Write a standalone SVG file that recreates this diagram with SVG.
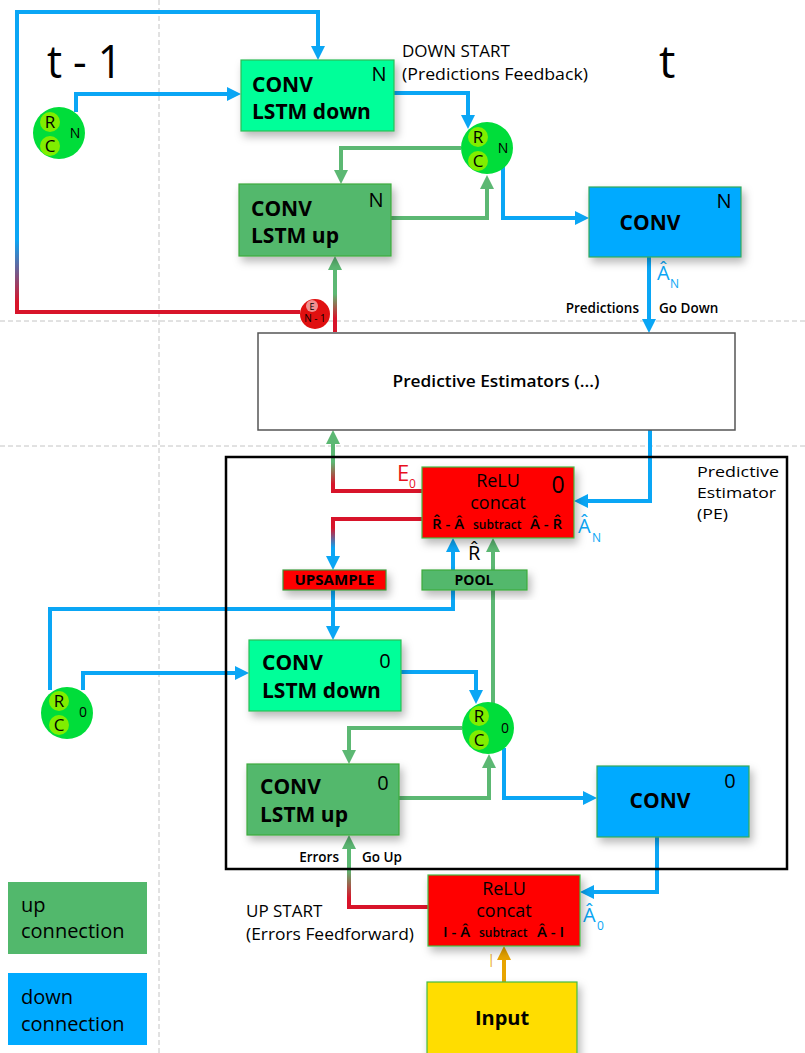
<svg xmlns="http://www.w3.org/2000/svg" width="805" height="1053" viewBox="0 0 805 1053">
<defs>
<style>
text{font-family:"Open Sans","Noto Sans","DejaVu Sans",sans-serif;fill:#000}
.guide{stroke:#c4c4c4;stroke-width:1;stroke-dasharray:5 3;fill:none}
.c{fill:none;stroke-width:4}
.bl{stroke:#0aa6f5}
.gr{stroke:#5cb873}
.or{stroke:#e8a400}
.ab{marker-end:url(#aB)}
.ag{marker-end:url(#aG)}
.ao{marker-end:url(#aO)}
.box{filter:url(#sh)}
.mint{fill:#00ff99;stroke:#2dbb55;stroke-width:1.2}
.dg{fill:#52b86c;stroke:#3caa3c;stroke-width:1.2}
.bb{fill:#00aaff;stroke:#35a85a;stroke-width:1.2}
.rd{fill:#ff0000;stroke:#44bb44;stroke-width:1.2}
.rcm{fill:#00dd3a}
.rci{fill:#80ee00}
.rct{font-size:17px;text-anchor:middle}
.lbl{font-size:14px;text-anchor:middle}
.h{font-size:21px;font-weight:700}
.num{font-size:20px;text-anchor:middle}
.relu{font-size:18px;text-anchor:middle}
.row{font-size:15px;font-weight:600}
.sub{font-size:12px;font-weight:600}
.note{font-size:17px}
.pe{font-size:15px}
.small{font-size:13.5px;font-weight:600}
.blue{fill:#0aa6f5}
</style>
<filter id="sh" x="-20%" y="-20%" width="150%" height="170%"><feDropShadow dx="3" dy="5" stdDeviation="4" flood-color="#000" flood-opacity="0.28"/></filter>
<marker id="aB" markerUnits="userSpaceOnUse" markerWidth="14" markerHeight="14" refX="4" refY="7" orient="auto"><path d="M0,0 L14,7 L0,14 z" fill="#0aa6f5"/></marker>
<marker id="aG" markerUnits="userSpaceOnUse" markerWidth="14" markerHeight="14" refX="4" refY="7" orient="auto"><path d="M0,0 L14,7 L0,14 z" fill="#5cb873"/></marker>
<marker id="aO" markerUnits="userSpaceOnUse" markerWidth="14" markerHeight="14" refX="4" refY="7" orient="auto"><path d="M0,0 L14,7 L0,14 z" fill="#e8a400"/></marker>
<linearGradient id="gLoop" gradientUnits="userSpaceOnUse" x1="0" y1="240" x2="0" y2="302"><stop offset="0" stop-color="#0aa6f5"/><stop offset="1" stop-color="#d8142a"/></linearGradient>
<linearGradient id="gEup" gradientUnits="userSpaceOnUse" x1="0" y1="294" x2="0" y2="318"><stop offset="0" stop-color="#5cb873"/><stop offset="1" stop-color="#d8142a"/></linearGradient>
<linearGradient id="gE0" gradientUnits="userSpaceOnUse" x1="0" y1="462" x2="0" y2="484"><stop offset="0" stop-color="#5cb873"/><stop offset="1" stop-color="#d8142a"/></linearGradient>
<linearGradient id="gUp" gradientUnits="userSpaceOnUse" x1="0" y1="528" x2="0" y2="548"><stop offset="0" stop-color="#d8142a"/><stop offset="1" stop-color="#0aa6f5"/></linearGradient>
<linearGradient id="gBot" gradientUnits="userSpaceOnUse" x1="0" y1="870" x2="0" y2="898"><stop offset="0" stop-color="#5cb873"/><stop offset="1" stop-color="#d8142a"/></linearGradient>
</defs>
<rect width="805" height="1053" fill="#fff"/>
<g id="guides">
<path class="guide" d="M159 0 V1053"/>
<path class="guide" d="M0 321 H805"/>
<path class="guide" d="M0 446 H805"/>
</g>
<g id="labels">
<text x="47" y="78" font-size="46" textLength="75" lengthAdjust="spacingAndGlyphs">t - 1</text>
<text x="659" y="78" font-size="46">t</text>
<text class="note" x="402" y="57">DOWN START</text>
<text class="note" x="402" y="80" textLength="186" lengthAdjust="spacingAndGlyphs">(Predictions Feedback)</text>
<text class="note" x="246" y="917">UP START</text>
<text class="note" x="246" y="940" textLength="168" lengthAdjust="spacingAndGlyphs">(Errors Feedforward)</text>
<text class="small" x="639" y="313" text-anchor="end">Predictions</text>
<text class="small" x="659" y="313">Go Down</text>
<text class="small" x="339" y="862" text-anchor="end">Errors</text>
<text class="small" x="362" y="862">Go Up</text>
<text class="blue" x="657" y="280" font-size="20">Â</text><text class="blue" x="670" y="288" font-size="12">N</text>
<text class="blue" x="578" y="533" font-size="20">Â</text><text class="blue" x="592" y="542" font-size="12">N</text>
<text class="blue" x="583" y="922" font-size="20">Â</text><text class="blue" x="597" y="930" font-size="12">0</text>
<text x="397" y="481" font-size="22" style="fill:#e8101e">E</text><text x="409" y="488" font-size="12" style="fill:#e8101e">0</text>
<text x="468" y="560" font-size="20">R&#x302;</text>
<text x="489" y="967" font-size="18" font-weight="300" style="fill:#e8a400">I</text>
<text class="pe" x="697" y="477" textLength="82" lengthAdjust="spacingAndGlyphs">Predictive</text>
<text class="pe" x="697" y="498" textLength="79" lengthAdjust="spacingAndGlyphs">Estimator</text>
<text class="pe" x="697" y="519" textLength="31" lengthAdjust="spacingAndGlyphs">(PE)</text>
</g>
<g id="connectors">
<path class="c ab" stroke="url(#gLoop)" d="M300 312 H17 V12 H318 V50"/>
<path class="c bl ab" d="M76 112 V94 H231"/>
<path class="c bl ab" d="M394 93 H468 V119"/>
<path class="c gr ag" d="M461 148 H341 V174"/>
<path class="c gr ag" d="M391 218 H487 V185"/>
<path class="c bl ab" d="M503 166 V218 H579"/>
<path class="c bl ab" d="M649 257 V323"/>
<path class="c ag" stroke="url(#gEup)" d="M335 332 V266"/>
<path class="c ag" stroke="url(#gE0)" d="M422 491 H333 V440"/>
<path class="c ab" stroke="url(#gUp)" d="M422 519 H333 V560"/>
<path class="c bl ab" d="M650 430 V501 H584"/>
<path class="c bl ab" d="M50 690 V609 H453 V548"/>
<path class="c gr ag" d="M493 704 V548"/>
<path class="c bl ab" d="M333 590 V630"/>
<path class="c bl ab" d="M83 690 V673 H239"/>
<path class="c bl ab" d="M401 672 H476 V694"/>
<path class="c gr ag" d="M462 728 H349 V754"/>
<path class="c gr ag" d="M399 798 H489 V764"/>
<path class="c bl ab" d="M504 748 V798 H587"/>
<path class="c bl ab" d="M657 837 V892 H590"/>
<path class="c ag" stroke="url(#gBot)" d="M428 907 H349 V845"/>
<path class="c or ao" d="M504 982 V956"/>
</g>
<g id="pe-container"><rect x="226" y="457" width="561" height="412" fill="none" stroke="#000" stroke-width="2.5"/></g>
<g id="lstm-down-N">
<rect class="mint box" x="241" y="60" width="153" height="71"/>
<text class="h" x="252" y="92">CONV</text><text class="h" x="252" y="119">LSTM down</text>
<text class="num" x="379" y="81">N</text>
</g>
<g id="lstm-up-N">
<rect class="dg box" x="239" y="184" width="152" height="72"/>
<text class="h" x="251" y="216">CONV</text><text class="h" x="251" y="243">LSTM up</text>
<text class="num" x="376" y="207">N</text>
</g>
<g id="conv-N">
<rect class="bb box" x="589" y="187" width="152" height="70"/>
<text class="h" x="650" y="230" text-anchor="middle">CONV</text>
<text class="num" x="724" y="208">N</text>
</g>
<g id="rc-N-prev">
<circle class="rcm" cx="59" cy="133" r="26"/>
<circle class="rci" cx="50" cy="122" r="10"/><circle class="rci" cx="50" cy="146" r="10"/>
<text class="rct" x="50" y="128">R</text><text class="rct" x="50" y="152">C</text>
<text class="lbl" x="75" y="138">N</text>
</g>
<g id="rc-N">
<circle class="rcm" cx="487" cy="148" r="26"/>
<circle class="rci" cx="478" cy="137" r="10"/><circle class="rci" cx="478" cy="161" r="10"/>
<text class="rct" x="478" y="143">R</text><text class="rct" x="478" y="167">C</text>
<text class="lbl" x="503" y="153">N</text>
</g>
<g id="error-N-1">
<circle cx="315" cy="314" r="15" fill="#e01010"/>
<circle cx="312" cy="306" r="6" fill="#f09090"/>
<text x="312" y="309.5" font-size="9" text-anchor="middle">E</text>
<text x="315" y="322" font-size="10" text-anchor="middle">N - 1</text>
</g>
<g id="predictive-estimators">
<rect x="258" y="333" width="477" height="97" fill="#fff" stroke="#555" stroke-width="1.5"/>
<text x="496" y="387" font-size="17" font-weight="600" text-anchor="middle" textLength="207" lengthAdjust="spacingAndGlyphs">Predictive Estimators (...)</text>
</g>
<g id="relu-0">
<rect class="rd box" x="422" y="467" width="152" height="71"/>
<text class="relu" x="498" y="487">ReLU</text>
<text class="relu" x="498" y="509">concat</text>
<text class="row" x="432" y="529">R&#x302; - Â</text>
<text class="sub" x="473" y="529">subtract</text>
<text class="row" x="530" y="529">Â - R&#x302;</text>
<text x="558" y="493" font-size="23" text-anchor="middle">0</text>
</g>
<g id="upsample">
<rect class="box" x="283" y="570" width="103" height="20" fill="#ff0000" stroke="#3a9a3a" stroke-width="1.2"/>
<text x="334.5" y="585" font-size="14" font-weight="700" text-anchor="middle" textLength="80" lengthAdjust="spacingAndGlyphs">UPSAMPLE</text>
</g>
<g id="pool">
<rect class="dg box" x="422" y="570" width="105" height="20"/>
<text x="474" y="585" font-size="14" font-weight="700" text-anchor="middle">POOL</text>
</g>
<g id="lstm-down-0">
<rect class="mint box" x="249" y="640" width="152" height="71"/>
<text class="h" x="262" y="670">CONV</text><text class="h" x="262" y="698">LSTM down</text>
<text class="num" x="385" y="668">0</text>
</g>
<g id="lstm-up-0">
<rect class="dg box" x="247" y="764" width="152" height="71"/>
<text class="h" x="260" y="794">CONV</text><text class="h" x="260" y="822">LSTM up</text>
<text class="num" x="383" y="790">0</text>
</g>
<g id="conv-0">
<rect class="bb box" x="597" y="766" width="152" height="71"/>
<text class="h" x="660" y="808" text-anchor="middle">CONV</text>
<text class="num" x="730" y="788">0</text>
</g>
<g id="rc-0-prev">
<circle class="rcm" cx="67" cy="713" r="26"/>
<circle class="rci" cx="59" cy="701" r="10"/><circle class="rci" cx="59" cy="725" r="10"/>
<text class="rct" x="59" y="707">R</text><text class="rct" x="59" y="731">C</text>
<text class="lbl" x="83" y="717">0</text>
</g>
<g id="rc-0">
<circle class="rcm" cx="488" cy="728" r="26"/>
<circle class="rci" cx="479" cy="716" r="10"/><circle class="rci" cx="479" cy="740" r="10"/>
<text class="rct" x="479" y="722">R</text><text class="rct" x="479" y="746">C</text>
<text class="lbl" x="505" y="733">0</text>
</g>
<g id="relu-input">
<rect class="rd box" x="428" y="875" width="152" height="71"/>
<text class="relu" x="504" y="895">ReLU</text>
<text class="relu" x="504" y="917">concat</text>
<text class="row" x="443" y="937">I - Â</text>
<text class="sub" x="479" y="937">subtract</text>
<text class="row" x="537" y="937">Â - I</text>
</g>
<g id="input">
<rect class="box" x="427" y="982" width="150" height="80" fill="#ffdd00" stroke="#44bb44" stroke-width="1.2"/>
<text x="502" y="1025" font-size="20" font-weight="700" text-anchor="middle">Input</text>
</g>
<g id="legend">
<rect x="8" y="882" width="139" height="72" fill="#52b86c"/>
<text x="21" y="912" font-size="20">up</text>
<text x="21" y="938" font-size="20">connection</text>
<rect x="8" y="973" width="139" height="72" fill="#00aaff"/>
<text x="21" y="1004" font-size="20">down</text>
<text x="21" y="1031" font-size="20">connection</text>
</g>
</svg>
